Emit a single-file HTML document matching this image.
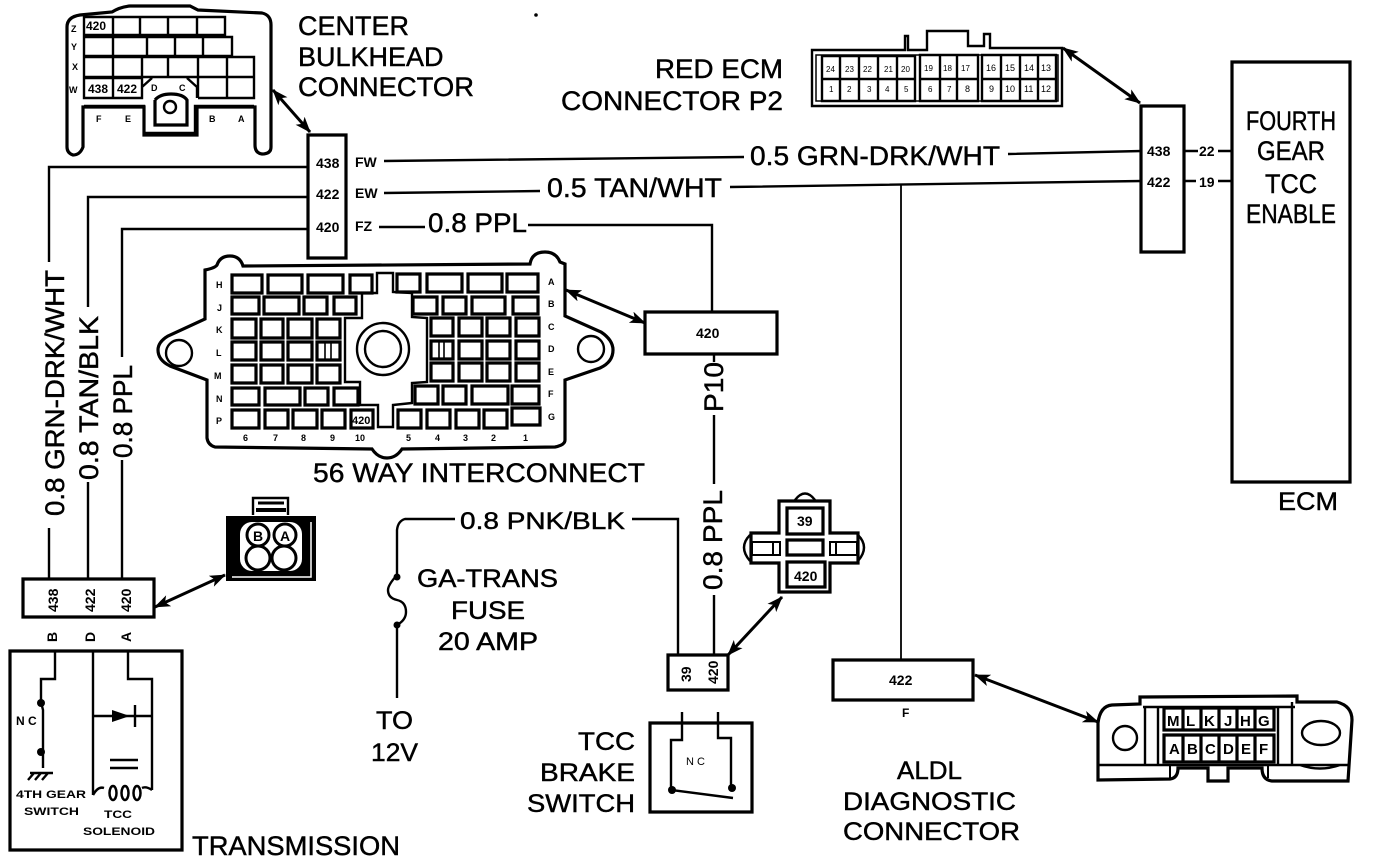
<!DOCTYPE html>
<html><head><meta charset="utf-8"><style>
html,body{margin:0;padding:0;background:#fff}
svg{display:block}
text{font-family:"Liberation Sans",sans-serif;fill:#000}
.l{font-size:27px;stroke:#000;stroke-width:.45}
.m{font-size:14px;font-weight:bold}
.s{font-size:9px;font-weight:bold}
.w{fill:none;stroke:#000;stroke-width:2.4}
.t{fill:none;stroke:#000;stroke-width:3.2}
.c{fill:none;stroke:#000;stroke-width:2.4}
</style></head><body>
<svg width="1392" height="862" viewBox="0 0 1392 862" xmlns="http://www.w3.org/2000/svg">
<defs><marker id="a" viewBox="0 0 16 12" refX="15" refY="6" markerWidth="16" markerHeight="12" markerUnits="userSpaceOnUse" orient="auto-start-reverse"><path d="M0,0L16,6L0,12L4,6Z"/></marker></defs>

<!-- center bulkhead -->
<path class="t" d="M67,27Q67,17 80,15L112,12Q120,7 130,6H190L198,10L262,13Q271,15 271,25V147Q271,154 262,154Q255,153 255,145V107H197V135H144V107H83V147Q80,155 73,155Q67,153 67,147Z"/>
<path class="c" d="M84,17H225V35H84ZM113,17V35M140,17V35M168,17V35M197,17V35M84,37H232V56H84ZM113,37V56M147,37V56M175,37V56M203,37V56M84,57H254V77H84ZM113,57V77M142,57V77M168,57V77M198,57V98M227,57V98M254,77V98H198M187,78L197,87V98M84,78H142V98H84ZM113,78V98M142,87L152,78M142,98V87M84,106H144V133H195V106H254"/>
<path class="t" d="M155,100V125H187V100Q183,94 171,94Q160,94 155,100"/>
<circle class="c" cx="170" cy="107" r="6"/>
<text class="m" x="86" y="30" style="font-size:12px">420</text><text class="m" x="88" y="93" style="font-size:12px">438</text><text class="m" x="117" y="93" style="font-size:12px">422</text>
<text class="s" x="71" y="32">Z</text><text class="s" x="71" y="50">Y</text><text class="s" x="72" y="70">X</text><text class="s" x="69" y="93">W</text>
<text class="s" x="96" y="122">F</text><text class="s" x="125" y="122">E</text><text class="s" x="151" y="91">D</text><text class="s" x="179" y="91">C</text><text class="s" x="209" y="122">B</text><text class="s" x="238" y="122">A</text>
<text class="l" x="298" y="35">CENTER</text><text class="l" x="298" y="66">BULKHEAD</text><text class="l" x="298" y="96" textLength="176" lengthAdjust="spacingAndGlyphs">CONNECTOR</text>

<!-- bulkhead block -->
<path class="t" d="M308,135H346V258H308Z"/>
<text class="m" x="316" y="168">438</text><text class="m" x="316" y="199">422</text><text class="m" x="316" y="232">420</text>
<text class="m" x="355" y="167">FW</text><text class="m" x="355" y="198">EW</text><text class="m" x="355" y="231">FZ</text>

<!-- wires -->
<path class="w" d="M384,161L744,157M1008,154L1142,151M384,193L540,191M730,187L1142,181M379,227H425M528,225H712V312M1184,151H1198M1218,151H1232M1184,181H1196M1218,181H1232"/>
<path class="w" d="M307,167H49V262M49,528V578M307,197H88V307M88,482V578M307,229H122V357M122,460V578M714,354V362M714,415V484M714,595V655"/>
<path class="w" d="M901,185V660" style="stroke-width:1.8"/>
<path class="w" d="M455,519H405Q398,521 397,530V575M397,625V698M632,519H678V655"/>
<path class="w" d="M397,575Q388,585 388,590Q388,598 397,600Q406,602 406,612Q406,620 397,625"/>
<circle cx="397" cy="577" r="3.5"/><circle cx="397" cy="625" r="3.5"/>

<text class="l" x="750" y="165" textLength="250" lengthAdjust="spacingAndGlyphs">0.5 GRN-DRK/WHT</text>
<text class="l" x="547" y="197" textLength="175" lengthAdjust="spacingAndGlyphs">0.5 TAN/WHT</text>
<text class="l" x="428" y="232" textLength="99" lengthAdjust="spacingAndGlyphs">0.8 PPL</text>
<text class="l" x="460" y="529" style="font-size:24px" textLength="165" lengthAdjust="spacingAndGlyphs">0.8 PNK/BLK</text>
<text class="l" transform="translate(64,516) rotate(-90)" textLength="246" lengthAdjust="spacingAndGlyphs">0.8 GRN-DRK/WHT</text>
<text class="l" transform="translate(98,480) rotate(-90)" textLength="164" lengthAdjust="spacingAndGlyphs">0.8 TAN/BLK</text>
<text class="l" transform="translate(132,458) rotate(-90)" textLength="93" lengthAdjust="spacingAndGlyphs">0.8 PPL</text>
<text class="l" transform="translate(723,412) rotate(-90)" textLength="50" lengthAdjust="spacingAndGlyphs">P10</text>
<text class="l" transform="translate(722,590) rotate(-90)" textLength="100" lengthAdjust="spacingAndGlyphs">0.8 PPL</text>

<!-- 56 way -->
<path class="t" d="M205,270Q215,268 217,265Q220,256 230,256Q240,256 243,266L530,264Q532,252 545,252Q556,252 560,262L565,264V316L601,332Q613,340 613,350Q613,362 600,368L565,380V440Q565,445 555,447L402,449Q396,458 387,458Q378,458 372,449L215,447Q208,445 207,438V380L170,366Q158,360 158,350Q158,342 168,336L205,319Z"/>
<circle class="c" cx="179" cy="353" r="13"/><circle class="c" cx="591" cy="349" r="13"/>
<circle class="c" cx="383" cy="349" r="26"/><circle class="c" cx="383" cy="349" r="18"/>
<path class="t" d="M232,275H262V293H232ZM268,275H302V293H268ZM308,275H343V293H308ZM350,275H372V293H350ZM397,274H420V292H397ZM427,274H462V292H427ZM468,274H502V292H468ZM507,274H538V292H507ZM232,297H259V314H232ZM264,297H299V314H264ZM304,297H327V314H304ZM334,297H356V314H334ZM413,297H437V314H413ZM443,297H466V314H443ZM472,297H505V314H472ZM513,297H538V314H513ZM232,319H256V338H232ZM261,319H283V338H261ZM288,319H312V338H288ZM317,319H340V338H317ZM431,318H453V336H431ZM459,318H482V336H459ZM487,318H510V336H487ZM516,318H539V336H516ZM232,342H256V360H232ZM261,342H283V360H261ZM288,342H312V360H288ZM317,342H340V360H317ZM431,341H453V359H431ZM459,341H482V359H459ZM487,341H510V359H487ZM516,341H539V359H516ZM232,365H256V383H232ZM261,365H283V383H261ZM288,365H312V383H288ZM317,365H340V383H317ZM431,363H453V381H431ZM459,363H482V381H459ZM487,363H510V381H487ZM516,363H539V381H516ZM232,388H259V405H232ZM265,388H300V405H265ZM305,388H328V405H305ZM334,388H358V405H334ZM415,386H438V404H415ZM443,386H466V404H443ZM472,386H508V404H472ZM512,386H539V404H512ZM232,410H259V428H232ZM265,410H288V428H265ZM293,410H317V428H293ZM322,410H345V428H322ZM351,410H373V428H351ZM398,410H421V428H398ZM427,410H450V428H427ZM456,410H479V428H456ZM484,410H507V428H484ZM512,408H540V425H512Z"/>
<path d="M325,342V360M331,342V360M439,341V359M444,341V359" fill="none" stroke="#000" stroke-width="1.6"/>
<path class="c" d="M377,273H393V292L412,293V317L427,318V382L412,383V403L393,405V427H378V405H360V382H345V318H362V293H377Z"/>
<text class="m" x="352" y="424" style="font-size:11px">420</text>
<text class="s" x="216" y="288">H</text><text class="s" x="217" y="311">J</text><text class="s" x="216" y="333">K</text><text class="s" x="216" y="356">L</text><text class="s" x="214" y="379">M</text><text class="s" x="216" y="402">N</text><text class="s" x="216" y="424">P</text>
<text class="s" x="548" y="285">A</text><text class="s" x="548" y="307">B</text><text class="s" x="548" y="330">C</text><text class="s" x="548" y="352">D</text><text class="s" x="548" y="375">E</text><text class="s" x="548" y="397">F</text><text class="s" x="548" y="420">G</text>
<text class="s" x="243" y="441">6</text><text class="s" x="273" y="441">7</text><text class="s" x="301" y="441">8</text><text class="s" x="330" y="441">9</text><text class="s" x="355" y="441">10</text><text class="s" x="406" y="441">5</text><text class="s" x="435" y="441">4</text><text class="s" x="463" y="441">3</text><text class="s" x="491" y="441">2</text><text class="s" x="523" y="441">1</text>
<text class="l" x="313" y="482" textLength="332" lengthAdjust="spacingAndGlyphs">56 WAY INTERCONNECT</text>

<path class="t" d="M645,312H777V354H645Z"/><text class="m" x="696" y="338">420</text>

<!-- red ecm -->
<path class="c" d="M812,50H905V36H908V50H927V31H968V46H984V34H990V48H1062V106H812Z"/>
<path class="c" style="stroke-width:1.5" d="M816,55H1058V101H816Z"/>
<path class="c" d="M822,56H915V101H822ZM822,79H915M840,56V101M859,56V101M878,56V101M897,56V101M920,55H978V101H920ZM920,79H978M940,55V101M957,55V101M982,55H1056V101H982ZM982,79H1056M1001,55V101M1020,55V101M1038,55V101"/>
<g>
<text x="826" y="72" font-size="8">24</text><text x="845" y="72" font-size="8">23</text><text x="863" y="72" font-size="8">22</text><text x="884" y="72" font-size="8">21</text><text x="901" y="72" font-size="8">20</text><text x="924" y="71" font-size="8">19</text><text x="943" y="71" font-size="8">18</text><text x="961" y="71" font-size="8">17</text><text x="986" y="71" font-size="9">16</text><text x="1005" y="71" font-size="9">15</text><text x="1024" y="71" font-size="9">14</text><text x="1041" y="71" font-size="9">13</text>
<text x="829" y="92" font-size="8">1</text><text x="847" y="92" font-size="8">2</text><text x="867" y="92" font-size="8">3</text><text x="885" y="92" font-size="8">4</text><text x="904" y="92" font-size="8">5</text><text x="928" y="92" font-size="8">6</text><text x="947" y="92" font-size="8">7</text><text x="965" y="92" font-size="9">8</text><text x="989" y="92" font-size="9">9</text><text x="1005" y="92" font-size="9">10</text><text x="1024" y="92" font-size="9">11</text><text x="1041" y="92" font-size="9">12</text>
</g>
<text class="l" x="655" y="78" textLength="128" lengthAdjust="spacingAndGlyphs">RED ECM</text>
<text class="l" x="561" y="110" textLength="222" lengthAdjust="spacingAndGlyphs">CONNECTOR P2</text>

<!-- ECM -->
<path class="t" d="M1141,106H1184V252H1141Z"/>
<text class="m" x="1147" y="156">438</text><text class="m" x="1147" y="187">422</text>
<text class="m" x="1199" y="156">22</text><text class="m" x="1199" y="187">19</text>
<path class="t" d="M1232,62H1350V482H1232Z"/>
<text class="l" x="1246" y="130" textLength="90" lengthAdjust="spacingAndGlyphs">FOURTH</text>
<text class="l" x="1257" y="160" textLength="68" lengthAdjust="spacingAndGlyphs">GEAR</text>
<text class="l" x="1265" y="193" textLength="52" lengthAdjust="spacingAndGlyphs">TCC</text>
<text class="l" x="1246" y="223" textLength="90" lengthAdjust="spacingAndGlyphs">ENABLE</text>
<text class="l" x="1278" y="510" style="font-size:25px" textLength="60" lengthAdjust="spacingAndGlyphs">ECM</text>

<!-- transmission -->
<path class="t" d="M23,579H154V617H23Z"/>
<text class="m" transform="translate(58,612) rotate(-90)">438</text><text class="m" transform="translate(95,612) rotate(-90)">422</text><text class="m" transform="translate(131,612) rotate(-90)">420</text>
<text class="m" transform="translate(57,642) rotate(-90)">B</text><text class="m" transform="translate(95,642) rotate(-90)">D</text><text class="m" transform="translate(131,642) rotate(-90)">A</text>
<path class="c" d="M253,515V498H288V515"/><path d="M258,503H284" stroke="#000" stroke-width="3"/><path d="M256,510H286" stroke="#000" stroke-width="4"/>
<path d="M226,516H316V581H226Z" fill="#000"/>
<path d="M311,522V577H232" fill="none" stroke="#fff" stroke-width="1.5"/>
<rect x="240" y="522" width="62" height="49" rx="12" fill="#fff"/>
<circle cx="258" cy="535" r="11" fill="#fff" stroke="#000" stroke-width="3"/><circle cx="285" cy="535" r="11" fill="#fff" stroke="#000" stroke-width="3"/><circle cx="258" cy="558" r="12" fill="#fff" stroke="#000" stroke-width="3"/><circle cx="284" cy="558" r="12" fill="#fff" stroke="#000" stroke-width="3"/>
<text class="m" x="253" y="541" style="font-size:14px">B</text><text class="m" x="280" y="541" style="font-size:14px">A</text>
<path class="t" d="M10,651H182V850H10Z"/>
<path class="w" d="M55,651V679H41V702L43,710V752V768M93,651V795M128,651V679H152V790M93,716H152M135,705V727M110,760H138M110,768H138M93,795Q98,786 104,788M152,790Q146,786 142,788M30,773H53M28,780L34,773M35,780L41,773M42,780L48,773"/>
<path d="M112,710L130,716L112,722Z"/><circle cx="41" cy="703" r="4"/><circle cx="41" cy="752" r="4"/>
<ellipse cx="113" cy="793" rx="3.5" ry="7" fill="none" stroke="#000" stroke-width="2.5"/><ellipse cx="125" cy="793" rx="3.5" ry="7" fill="none" stroke="#000" stroke-width="2.5"/><ellipse cx="137" cy="793" rx="3.5" ry="7" fill="none" stroke="#000" stroke-width="2.5"/>
<text class="m" x="16" y="725" style="font-size:12px;font-weight:bold">N C</text>
<text class="s" x="16" y="798" style="font-size:11px" textLength="70" lengthAdjust="spacingAndGlyphs">4TH GEAR</text>
<text class="s" x="24" y="815" style="font-size:11px" textLength="55" lengthAdjust="spacingAndGlyphs">SWITCH</text>
<text class="s" x="104" y="818" style="font-size:11px" textLength="28" lengthAdjust="spacingAndGlyphs">TCC</text>
<text class="s" x="83" y="835" style="font-size:11px" textLength="72" lengthAdjust="spacingAndGlyphs">SOLENOID</text>
<text class="l" x="192" y="855" textLength="208" lengthAdjust="spacingAndGlyphs">TRANSMISSION</text>

<!-- fuse text -->
<text class="l" x="417" y="587" style="font-size:25px" textLength="141" lengthAdjust="spacingAndGlyphs">GA-TRANS</text>
<text class="l" x="451" y="619" style="font-size:25px" textLength="74" lengthAdjust="spacingAndGlyphs">FUSE</text>
<text class="l" x="438" y="650" style="font-size:25px" textLength="100" lengthAdjust="spacingAndGlyphs">20 AMP</text>
<text class="l" x="376" y="729" style="font-size:25px" textLength="37" lengthAdjust="spacingAndGlyphs">TO</text>
<text class="l" x="371" y="761" style="font-size:25px" textLength="47" lengthAdjust="spacingAndGlyphs">12V</text>

<!-- relay connector -->
<path class="t" d="M779,501H830V533H858V563H830V592H779V563H751V533H779Z"/>
<path class="c" d="M795,500Q805,487 815,500M750,535Q738,547 750,561M858,535Q870,547 858,561"/>
<path class="c" style="stroke-width:2" d="M752,542H780V555H752ZM830,542H857V555H830ZM773,542V555M836,542V555"/>
<path class="t" d="M787,508H823V534H787ZM787,540H823V555H787ZM787,562H825V587H787Z"/>
<text class="m" x="797" y="526">39</text><text class="m" x="794" y="581">420</text>
<path class="t" d="M668,655H728V690H668Z"/>
<text class="m" transform="translate(691,682) rotate(-90)">39</text><text class="m" transform="translate(718,684) rotate(-90)">420</text>

<!-- brake switch -->
<path class="t" d="M650,723H752V812H650Z"/>
<path class="w" d="M682,712V740H671V790L733,798M718,712V738H731V788"/>
<circle cx="672" cy="790" r="4"/><circle cx="732" cy="788" r="4"/>
<text class="m" x="686" y="765" style="font-size:11px;font-weight:normal">N C</text>
<text class="l" x="578" y="750" style="font-size:25px" textLength="57" lengthAdjust="spacingAndGlyphs">TCC</text>
<text class="l" x="540" y="781" style="font-size:25px" textLength="95" lengthAdjust="spacingAndGlyphs">BRAKE</text>
<text class="l" x="527" y="812" style="font-size:25px" textLength="108" lengthAdjust="spacingAndGlyphs">SWITCH</text>

<!-- ALDL -->
<path class="t" d="M833,660H973V700H833Z"/>
<text class="m" x="889" y="685">422</text><text class="m" x="902" y="717" style="font-size:12px;font-weight:bold">F</text>
<path class="t" d="M1098,780V723Q1100,706 1112,705L1140,704V697L1297,696V702H1337Q1352,706 1352,720L1348,781H1272Q1262,780 1262,768H1228V781H1208V768H1178Q1178,778 1170,779Z"/>
<path class="c" d="M1143,707H1295M1098,765H1350M1145,707V765M1158,707V765M1278,707V765M1292,702V765M1300,765Q1320,772 1340,765"/>
<path d="M1170,766V778M1268,766V778" stroke="#000" stroke-width="2"/>
<circle class="c" cx="1125" cy="738" r="12"/><ellipse class="c" cx="1321" cy="733" rx="19" ry="12"/>
<path class="t" d="M1164,708H1274V730H1164ZM1164,735H1274V762H1164ZM1183,708V730M1201,708V730M1219,708V730M1237,708V730M1255,708V730M1183,735V762M1201,735V762M1219,735V762M1237,735V762M1255,735V762"/>
<g style="font-weight:bold"><text x="1167" y="726" font-size="15">M</text><text x="1186" y="726" font-size="15">L</text><text x="1204" y="726" font-size="15">K</text><text x="1224" y="726" font-size="15">J</text><text x="1240" y="726" font-size="15">H</text><text x="1258" y="726" font-size="15">G</text><text x="1169" y="754" font-size="15">A</text><text x="1187" y="754" font-size="15">B</text><text x="1205" y="754" font-size="15">C</text><text x="1223" y="754" font-size="15">D</text><text x="1241" y="754" font-size="15">E</text><text x="1259" y="754" font-size="15">F</text></g>
<text class="l" x="897" y="779" style="font-size:25px" textLength="65" lengthAdjust="spacingAndGlyphs">ALDL</text>
<text class="l" x="843" y="810" style="font-size:25px" textLength="173" lengthAdjust="spacingAndGlyphs">DIAGNOSTIC</text>
<text class="l" x="843" y="840" style="font-size:25px" textLength="177" lengthAdjust="spacingAndGlyphs">CONNECTOR</text>

<!-- arrows -->
<g stroke="#000" stroke-width="3">
<line x1="273" y1="90" x2="310" y2="132" marker-start="url(#a)" marker-end="url(#a)"/>
<line x1="1063" y1="48" x2="1140" y2="103" marker-start="url(#a)" marker-end="url(#a)"/>
<line x1="566" y1="290" x2="645" y2="323" marker-start="url(#a)" marker-end="url(#a)"/>
<line x1="155" y1="607" x2="225" y2="575" marker-start="url(#a)" marker-end="url(#a)"/>
<line x1="728" y1="655" x2="782" y2="597" marker-start="url(#a)" marker-end="url(#a)"/>
<line x1="975" y1="675" x2="1098" y2="722" marker-start="url(#a)" marker-end="url(#a)"/>
</g>
<circle cx="536" cy="15" r="1.8"/>
</svg>
</body></html>
